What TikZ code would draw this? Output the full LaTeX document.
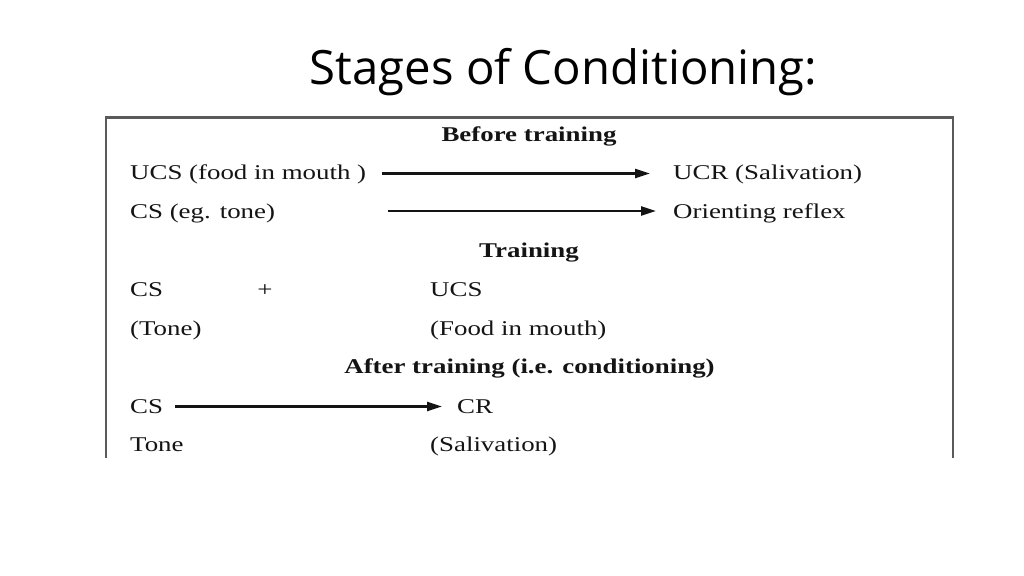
\documentclass[tikz,border=0pt]{standalone}
\usepackage{fontspec}
\setmainfont{Liberation Serif}[FakeStretch=1.28]
\newfontfamily\titlefont{Open Sans}
\usetikzlibrary{arrows.meta}
\definecolor{ink}{HTML}{141414}
\definecolor{frame}{HTML}{5A5A5A}
\begin{document}
\begin{tikzpicture}[x=1pt,y=-1pt,
  txt/.style={anchor=base west,inner sep=0pt,text=ink,font=\fontsize{21}{25}\selectfont,text height=15pt,text depth=4pt},
  hd/.style={anchor=base,inner sep=0pt,text=ink,font=\fontsize{21}{25}\selectfont\bfseries},
  arr/.style={draw=ink,line width=2.3pt,-{Triangle[length=15pt,width=9pt]}}]
\useasboundingbox[fill=white] (0,0) rectangle (1024,575);
% title
\node[anchor=base,inner sep=0pt,text=black,font=\titlefont\fontsize{47.3}{56}\selectfont] (title) at (563.5,85) {Stages of Conditioning:};
% frame (open at the bottom)
\draw[frame,line width=2pt] (105.5,458) -- (105.5,117.5) -- (953,117.5) -- (953,458);
% Before training
\node[hd] (h1) at (529,141) {Before training};
\node[txt] (ucs1) at (130,179) {UCS (food in mouth )};
\node[txt] (ucr1) at (673,179) {UCR (Salivation)};
\node[txt] (cs1) at (130,218) {CS (eg. tone)};
\node[txt] (or1) at (673,218) {Orienting reflex};
\draw[arr] ([xshift=252pt]ucs1.west) -- ([xshift=-23pt]ucr1.west);
\draw[arr] ([xshift=258pt,yshift=1.5pt]cs1.west) -- ([xshift=-17pt,yshift=1.5pt]or1.west);
% Training
\node[hd] (h2) at (529,257) {Training};
\node[txt] (cs2) at (130,296) {CS};
\node[txt,anchor=base] (plus) at (265,296) {+};
\node[txt] (ucs2) at (430,296) {UCS};
\node[txt] (tone2) at (130,335) {(Tone)};
\node[txt] (food2) at (430,335) {(Food in mouth)};
% After training
\node[hd] (h3) at (529.5,373) {After training (i.e. conditioning)};
\node[txt] (cs3) at (130,413) {CS};
\node[txt] (cr3) at (457,413) {CR};
\node[txt] (tone3) at (130,451) {Tone};
\node[txt] (sal3) at (430,451) {(Salivation)};
\draw[arr] ([xshift=45pt,yshift=1pt]cs3.west) -- ([xshift=-15pt,yshift=1pt]cr3.west);
\end{tikzpicture}
\end{document}
